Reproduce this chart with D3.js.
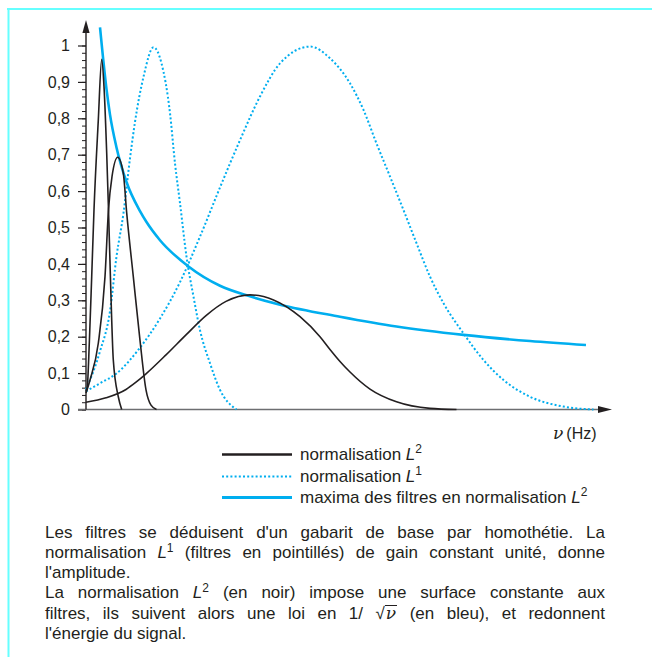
<!DOCTYPE html>
<html>
<head>
<meta charset="utf-8">
<script src="https://cdn.jsdelivr.net/npm/d3@7"></script>
<style>
  body { margin: 0; background: #fff; }
  #wrap { position: relative; width: 652px; height: 657px; overflow: hidden; }
  #wrap svg { position: absolute; left: 0; top: 0; }
  .caption {
    position: absolute; left: 45px; top: 522.5px; width: 560px;
    font-family: "Liberation Sans", Arial, sans-serif; font-size: 17px;
    line-height: 20.3px; color: #231f20;
  }
  .caption div { text-align: justify; text-align-last: justify; }
  .caption div.last { text-align: left; text-align-last: left; }
  .caption sup { font-size: 12px; line-height: 0; vertical-align: 6px; }
  .caption .nu {
    font-family: "DejaVu Serif", "Liberation Serif", serif; font-style: italic;
    display: inline-block; line-height: 14px; border-top: 1px solid #231f20; padding: 0 1px;
  }
</style>
</head>
<body>
<div id="wrap"></div>
<script>
// Filter curves (nu in arbitrary units, 5 px per unit)
const nuL2a = [0, 0.26, 0.66, 1.14, 1.6, 2.46, 3.14, 3.6, 4.14, 4.5, 4.9, 5.46, 6.46, 7.14];
const valL2a = [0.05, 0.063, 0.182, 0.365, 0.549, 0.795, 0.962, 0.887, 0.704, 0.549, 0.356, 0.136, 0.035, 0];

const nuL2b = [0, 0.8, 2.46, 3.8, 4.5, 5.2, 6.34, 7.46, 8.14, 9.46, 10.8, 12.0, 13.0, 14.1];
const valL2b = [0.045, 0.081, 0.182, 0.365, 0.549, 0.64, 0.693, 0.649, 0.54, 0.365, 0.19, 0.054, 0.012, 0];

const nuL2c = [0, 4, 8, 10, 12, 16, 20, 24, 28, 32.8, 37.5, 42.8, 46.8, 48.8, 50.8, 52.8, 56.8, 62.1, 68.8, 74.1];
const valL2c = [0.02, 0.032, 0.055, 0.075, 0.098, 0.15, 0.205, 0.258, 0.297, 0.315, 0.301, 0.255, 0.2, 0.165, 0.132, 0.103, 0.056, 0.021, 0.003, 0];

const nuL1a = [0, 2.8, 4.8, 6.1, 7.5, 8.8, 9.8, 11.5, 13.5, 15.1, 16.8, 17.8, 18.8, 20.1, 21.5, 22.8, 24.8, 26.8, 30.1];
const valL1a = [0.055, 0.16, 0.27, 0.42, 0.54, 0.69, 0.79, 0.914, 0.995, 0.951, 0.814, 0.676, 0.567, 0.42, 0.31, 0.218, 0.127, 0.054, 0];

const nuL1b = [0, 2.8, 6.1, 10.8, 14.8, 18.8, 22.8, 26.8, 30.8, 34.8, 38.8, 44.8, 48.8, 52.8, 55.5, 58.1, 60.8, 63.5, 66.1, 68.8, 71.5, 75.5, 79.5, 83.5, 88.8, 95.5, 101.5];
const valL1b = [0.05, 0.072, 0.099, 0.17, 0.25, 0.35, 0.475, 0.61, 0.74, 0.86, 0.951, 0.997, 0.965, 0.896, 0.823, 0.731, 0.64, 0.548, 0.457, 0.365, 0.292, 0.209, 0.136, 0.081, 0.035, 0.008, 0];

const nuMax = [2.8, 4.1, 4.8, 6.1, 8.1, 10.8, 12.1, 14.8, 20.5, 26.8, 32.8, 38.8, 50.8, 62.1, 75.5, 88.8, 100];
const valMax = [1.05, 0.88, 0.81, 0.72, 0.625, 0.545, 0.515, 0.465, 0.393, 0.34, 0.311, 0.288, 0.255, 0.228, 0.205, 0.188, 0.177];

const yTicks = [0, 0.1, 0.2, 0.3, 0.4, 0.5, 0.6, 0.7, 0.8, 0.9, 1];

const legendLabels = ["normalisation ", "normalisation ", "maxima des filtres en normalisation "];
const legendSup = ["2", "1", "2"];

const black = "#231f20", blue = "#00aeef";

const width = 652, height = 657;
const svg = d3.select("#wrap").append("svg")
    .attr("width", width)
    .attr("height", height);

// light blue frame (top and left)
svg.append("line").attr("x1", 7).attr("x2", width).attr("y1", 9).attr("y2", 9)
    .attr("stroke", "#66ffff").attr("stroke-width", 2);
svg.append("line").attr("x1", 8.5).attr("x2", 8.5).attr("y1", 8).attr("y2", height)
    .attr("stroke", "#66ffff").attr("stroke-width", 2);

// scales
const x = d3.scaleLinear().domain([0, 100]).range([86, 586]);
const y = d3.scaleLinear().domain([0, 1]).range([409.5, 45.5]);

const fr = d3.formatLocale({ decimal: ",", thousands: " ", grouping: [3], currency: ["", ""] }).format(".1~f");

// minor ticks
svg.append("g")
    .attr("transform", "translate(" + x(0) + ",0)")
    .call(d3.axisLeft(y).tickValues(d3.range(0, 51).map(i => i / 50)).tickSize(4).tickFormat(""))
    .call(g => g.select(".domain").remove())
    .call(g => g.selectAll("line").attr("stroke", black).attr("stroke-width", 1));

// major ticks and labels
svg.append("g")
    .attr("transform", "translate(" + x(0) + ",0)")
    .call(d3.axisLeft(y).tickValues(yTicks).tickSize(8).tickPadding(8).tickFormat(fr))
    .call(g => g.select(".domain").remove())
    .call(g => g.selectAll("line").attr("stroke", black).attr("stroke-width", 1.2))
    .call(g => g.selectAll("text")
        .attr("fill", black)
        .style("font-family", "'Liberation Sans', Arial, sans-serif")
        .style("font-size", "16px"));

// x axis with arrow
const xEnd = x(105.2);
svg.append("line")
    .attr("x1", x(0) - 8).attr("x2", xEnd - 10)
    .attr("y1", y(0)).attr("y2", y(0))
    .attr("stroke", "#6d6e71").attr("stroke-width", 1.6);
svg.append("path")
    .attr("d", `M${xEnd},${y(0)} L${xEnd - 14},${y(0) - 3.6} L${xEnd - 14},${y(0) + 3.6} Z`)
    .attr("fill", black);

// y axis with arrow
const yEnd = y(1.07);
svg.append("line")
    .attr("x1", x(0)).attr("x2", x(0))
    .attr("y1", y(0)).attr("y2", yEnd + 10)
    .attr("stroke", black).attr("stroke-width", 1.4);
svg.append("path")
    .attr("d", `M${x(0)},${yEnd} L${x(0) - 3.6},${yEnd + 13} L${x(0) + 3.6},${yEnd + 13} Z`)
    .attr("fill", black);

// x axis label
const xl = svg.append("text")
    .attr("x", 553).attr("y", 439)
    .attr("fill", black)
    .style("font-family", "'Liberation Sans', Arial, sans-serif")
    .style("font-size", "16px");
xl.append("tspan").text("ν")
    .style("font-family", "'DejaVu Serif', 'Liberation Serif', serif")
    .style("font-style", "italic").style("font-size", "17px");
xl.append("tspan").attr("dx", 3).text("(Hz)");

// curves
const line = d3.line()
    .x(d => x(d[0]))
    .y(d => y(d[1]))
    .curve(d3.curveMonotoneX);

const zip = (a, b) => a.map((v, i) => [v, b[i]]);

const dotted = [zip(nuL1a, valL1a), zip(nuL1b, valL1b)];
const solid = [zip(nuL2a, valL2a), zip(nuL2b, valL2b), zip(nuL2c, valL2c)];

svg.selectAll(".l1")
    .data(dotted)
    .join("path")
    .attr("class", "l1")
    .attr("fill", "none")
    .attr("stroke", blue)
    .attr("stroke-width", 2)
    .attr("stroke-dasharray", "2,2.2")
    .attr("d", line);

svg.append("path")
    .datum(zip(nuMax, valMax))
    .attr("fill", "none")
    .attr("stroke", blue)
    .attr("stroke-width", 2.6)
    .attr("d", line);

svg.selectAll(".l2")
    .data(solid)
    .join("path")
    .attr("class", "l2")
    .attr("fill", "none")
    .attr("stroke", black)
    .attr("stroke-width", 1.6)
    .attr("d", line);

// legend
const legendRows = [454.5, 476.5, 497.5];
const legendStyles = [
    { stroke: black, width: 2.4, dash: null },
    { stroke: blue, width: 2, dash: "2,2.2" },
    { stroke: blue, width: 2.8, dash: null }
];
const legend = svg.selectAll(".legend")
    .data(legendLabels)
    .join("g")
    .attr("class", "legend")
    .attr("transform", (d, i) => "translate(0," + legendRows[i] + ")");

legend.append("line")
    .attr("x1", 222).attr("x2", 292)
    .attr("stroke", (d, i) => legendStyles[i].stroke)
    .attr("stroke-width", (d, i) => legendStyles[i].width)
    .attr("stroke-dasharray", (d, i) => legendStyles[i].dash);

const lt = legend.append("text")
    .attr("x", 300).attr("y", 5)
    .attr("fill", black)
    .style("font-family", "'Liberation Sans', Arial, sans-serif")
    .style("font-size", "17px");
lt.append("tspan").text(d => d);
lt.append("tspan").text("L").style("font-style", "italic");
lt.append("tspan").attr("dy", -7).style("font-size", "12px").text((d, i) => legendSup[i]);

// caption
const captionLines = [
    { html: "Les filtres se déduisent d'un gabarit de base par homothétie. La" },
    { html: "normalisation <i>L</i><sup>1</sup> (filtres en pointillés) de gain constant unité, donne" },
    { html: "l'amplitude.", last: true },
    { html: "La normalisation <i>L</i><sup>2</sup> (en noir) impose une surface constante aux" },
    { html: "filtres, ils suivent alors une loi en 1/ √<span class='nu'>ν</span> (en bleu), et redonnent" },
    { html: "l'énergie du signal.", last: true }
];
d3.select("#wrap").append("div")
    .attr("class", "caption")
    .selectAll("div")
    .data(captionLines)
    .join("div")
    .classed("last", d => !!d.last)
    .html(d => d.html);
</script>
</body>
</html>
